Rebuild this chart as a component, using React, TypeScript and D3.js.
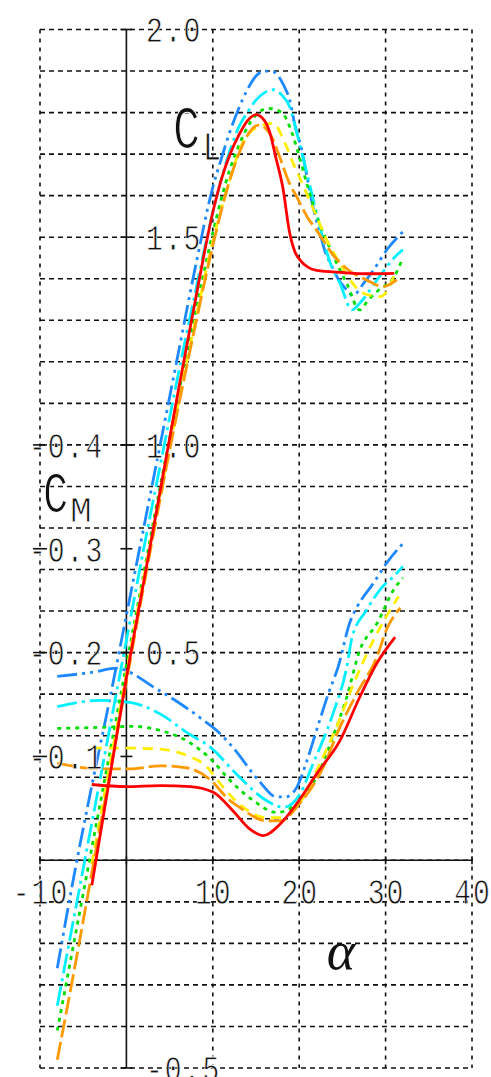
import React from "react";
import * as d3 from "d3";

type P = [number, number];

// ---- tick labels ----
const ALPHA_TICKS = [-10, 0, 10, 20, 30, 40];
const ALPHA_LABELS = ["-10", "", "10", "20", "30", "40"];
const CL_TICKS = [2.0, 1.5, 1.0, 0.5, -0.5];
const CL_LABELS = ["2.0", "1.5", "1.0", "0.5", "-0.5"];
const CM_TICKS = [-0.4, -0.3, -0.2, -0.1];
const CM_LABELS = ["-0.4", "-0.3", "-0.2", "-0.1"];

// ---- lift coefficient curves (alpha, CL) ----
const blueCL: P[] = [[-8,-0.26],[-6,-0.03],[-4,0.18],[-2,0.38],[0,0.59],[2,0.80],[4,1.01],[6,1.22],[8,1.43],[10,1.62],[11,1.69],[12,1.755],[13,1.81],[14,1.855],[15,1.888],[16,1.90],[17,1.898],[18.2,1.866],[18.9,1.83],[19.5,1.77],[20.3,1.71],[20.9,1.646],[21.6,1.573],[22.4,1.51],[23,1.465],[23.8,1.43],[24.5,1.40],[25.3,1.378],[26.2,1.36],[27.5,1.39],[28.6,1.421],[30.3,1.474],[32,1.513]];
const cyanCL: P[] = [[-8,-0.35],[-6,-0.13],[-4,0.09],[-2,0.31],[0,0.53],[2,0.75],[4,0.96],[6,1.17],[8,1.37],[10,1.56],[12,1.71],[13,1.765],[14,1.80],[15,1.83],[16,1.848],[17,1.855],[18,1.842],[18.9,1.814],[19.8,1.745],[20.7,1.67],[22,1.558],[23.6,1.438],[24.7,1.39],[26.1,1.325],[27,1.341],[29,1.397],[31.1,1.453],[32,1.47]];
const greenCL: P[] = [[-8,-0.41],[-6,-0.19],[-4,0.03],[-2,0.25],[0,0.47],[2,0.69],[4,0.91],[6,1.12],[8,1.32],[10,1.51],[12,1.665],[13,1.72],[14.3,1.775],[15.3,1.80],[16.4,1.81],[18,1.80],[18.9,1.766],[19.9,1.702],[21,1.62],[22.2,1.541],[23.4,1.481],[24.5,1.43],[25.5,1.389],[27,1.325],[28,1.349],[29.2,1.373],[31,1.405],[32,1.45]];
const yellowCL: P[] = [[-4,-0.01],[-2,0.22],[0,0.45],[2,0.68],[4,0.89],[6,1.10],[8,1.30],[10,1.49],[12,1.64],[13.1,1.71],[14,1.745],[15.3,1.766],[17,1.774],[18.2,1.734],[19.3,1.678],[20.5,1.622],[22,1.55],[23.2,1.493],[24.7,1.437],[25.9,1.397],[27.4,1.365],[29.4,1.357],[31.1,1.413]];
const orangeCL: P[] = [[-8,-0.48],[-6,-0.26],[-4,-0.03],[-2,0.20],[0,0.43],[2,0.66],[4,0.88],[6,1.09],[8,1.29],[10,1.48],[12,1.64],[13,1.70],[14,1.745],[15.3,1.77],[16.8,1.742],[17.8,1.69],[18.7,1.638],[19.9,1.59],[20.9,1.55],[22,1.517],[24.1,1.453],[25.7,1.421],[27.8,1.397],[29.7,1.381],[31.3,1.397]];
const redCL: P[] = [[-4,-0.06],[-2,0.19],[0,0.44],[2,0.67],[4,0.90],[6,1.13],[8,1.35],[9,1.46],[10,1.56],[11,1.64],[12,1.70],[13,1.745],[14,1.78],[15,1.795],[16,1.78],[16.7,1.745],[17.2,1.70],[18.1,1.62],[18.9,1.51],[19.5,1.465],[20.1,1.445],[21,1.428],[22,1.42],[25,1.415],[28,1.412],[31,1.413]];

// ---- moment coefficient curves (alpha, CM) ----
const blueCM: P[] = [[-8,-0.177],[-4,-0.181],[-1,-0.185],[0.4,-0.181],[3.1,-0.167],[6.2,-0.151],[8.9,-0.135],[10.45,-0.125],[12.4,-0.108],[15.3,-0.077],[17.4,-0.061],[18.4,-0.061],[19.7,-0.070],[20.9,-0.096],[22,-0.125],[23.4,-0.161],[24.5,-0.186],[25.9,-0.230],[26.7,-0.244],[28.6,-0.267],[30.1,-0.286],[32,-0.305]];
const cyanCM: P[] = [[-8,-0.148],[-3,-0.154],[0.4,-0.152],[3.9,-0.141],[7,-0.123],[9.7,-0.109],[13.1,-0.080],[16.2,-0.0575],[18.2,-0.051],[20.1,-0.064],[21.6,-0.093],[23.9,-0.141],[25.5,-0.186],[26.1,-0.214],[27.8,-0.241],[29.7,-0.264],[30.9,-0.273],[32,-0.283]];
const greenCM: P[] = [[-8,-0.127],[-3,-0.128],[0.8,-0.129],[3.9,-0.125],[7,-0.115],[9.7,-0.098],[12,-0.077],[14.7,-0.0575],[17.4,-0.046],[20.1,-0.0575],[22,-0.080],[23.9,-0.119],[25.5,-0.157],[27,-0.202],[29,-0.228],[30.9,-0.260],[32,-0.272]];
const yellowCM: P[] = [[-4,-0.108],[0.4,-0.108],[3.9,-0.107],[7,-0.101],[9.3,-0.090],[10.45,-0.078],[13.1,-0.054],[16.2,-0.041],[17.8,-0.041],[20.5,-0.061],[22.4,-0.093],[24.3,-0.128],[26.3,-0.170],[28.6,-0.212],[30.1,-0.235],[31.5,-0.254]];
const orangeCM: P[] = [[-8,-0.0935],[-3,-0.088],[0.4,-0.088],[3.9,-0.091],[7,-0.089],[9.5,-0.079],[12,-0.0575],[13.1,-0.051],[16.2,-0.038],[17.8,-0.038],[20.1,-0.055],[22.8,-0.090],[24.7,-0.128],[26.7,-0.161],[29,-0.196],[30.1,-0.222],[31.7,-0.243]];
const redCM: P[] = [[-4,-0.073],[0,-0.071],[3.9,-0.072],[7.4,-0.071],[10.06,-0.0655],[12.4,-0.047],[14.3,-0.030],[15.85,-0.0237],[17.8,-0.035],[20.1,-0.059],[22,-0.083],[24.7,-0.115],[27,-0.157],[29,-0.190],[31.1,-0.215]];

const SERIES = [
  { cl: blueCL, cm: blueCM, color: "#1e88ff", dash: "20,5,3,5,3,5" },
  { cl: cyanCL, cm: cyanCM, color: "#00f0ff", dash: "20,5,3,5" },
  { cl: greenCL, cm: greenCM, color: "#00dd00", dash: "4,5" },
  { cl: yellowCL, cm: yellowCM, color: "#ffee00", dash: "10,7" },
  { cl: orangeCL, cm: orangeCM, color: "#ff9900", dash: "18,5" },
  { cl: redCL, cm: redCM, color: "#ff0000", dash: "none" },
];

const W = 491;
const H = 1077;
const MONO = "'Liberation Mono', 'DejaVu Sans Mono', monospace";

function Label({ x, y, text, size = 28, anchor = "start", sy = 1.35 }: any) {
  return (
    <g transform={`translate(${x},${y}) scale(1,${sy})`}>
      <text
        dy={size * 0.34}
        fontFamily={MONO}
        fontSize={size}
        letterSpacing={2}
        textAnchor={anchor}
        fill="#111"
        stroke="#fff"
        strokeWidth={0.6}
      >
        {text}
      </text>
    </g>
  );
}

export default function App() {
  const x = d3.scaleLinear().domain([-10, 40]).range([40, 472]);
  const yCL = d3.scaleLinear().domain([-0.5, 2.0]).range([1068, 29.5]);
  const yCM = d3.scaleLinear().domain([0.2, -0.8]).range([1068, 29.5]);

  const lineCL = d3
    .line<P>()
    .x((d) => x(d[0]))
    .y((d) => yCL(d[1]))
    .curve(d3.curveMonotoneX);
  const lineCM = d3
    .line<P>()
    .x((d) => x(d[0]))
    .y((d) => yCM(d[1]))
    .curve(d3.curveMonotoneX);

  const gridY = d3.range(26).map((i) => -0.5 + i * 0.1);
  const gridX = [-10, 10, 20, 30, 40];
  const x0 = x(0);
  const yAxis = yCL(0);

  return (
    <svg
      width={W}
      height={H}
      style={{ position: "absolute", left: 0, top: 0, background: "#fff" }}
    >
      <rect width={W} height={H} fill="#fff" />
      {/* grid */}
      <g stroke="#111" strokeWidth={1.6} fill="none">
        {gridY.map((v, i) => (
          <line
            key={"h" + i}
            x1={x(-10)}
            x2={x(40)}
            y1={yCL(v)}
            y2={yCL(v)}
            strokeDasharray="5,4"
          />
        ))}
        {gridX.map((v) => (
          <line
            key={"v" + v}
            x1={x(v)}
            x2={x(v)}
            y1={yCL(2.0)}
            y2={yCL(-0.5)}
            strokeDasharray="4,5"
          />
        ))}
      </g>
      {/* axes */}
      <g stroke="#111" strokeWidth={1.6}>
        <line x1={x0} x2={x0} y1={yCL(2.0)} y2={yCL(-0.5)} />
        <line x1={x(-10)} x2={x(40)} y1={yAxis} y2={yAxis} />
        {ALPHA_TICKS.map((t) => (
          <line key={"at" + t} x1={x(t)} x2={x(t)} y1={yAxis - 4} y2={yAxis + 4} />
        ))}
        {CL_TICKS.map((t) => (
          <line key={"ct" + t} x1={x0 - 6} x2={x0 + 6} y1={yCL(t)} y2={yCL(t)} />
        ))}
        {CM_TICKS.map((t) => (
          <g key={"mt" + t}>
            <line x1={x0 - 6} x2={x0 + 6} y1={yCM(t)} y2={yCM(t)} />
            <line x1={x(-10) - 7} x2={x(-10) + 7} y1={yCM(t)} y2={yCM(t)} />
          </g>
        ))}
      </g>
      {/* curves */}
      <g fill="none" strokeWidth={2.8} strokeLinejoin="round">
        {SERIES.map((s, i) => (
          <g key={"s" + i} stroke={s.color} strokeDasharray={s.dash}>
            <path d={lineCM(s.cm) || ""} />
            <path d={lineCL(s.cl) || ""} />
          </g>
        ))}
      </g>
      {/* tick labels */}
      {CL_TICKS.map((t, i) => (
        <Label key={"cl" + t} x={146} y={yCL(t)} text={CL_LABELS[i]} />
      ))}
      {CM_TICKS.map((t, i) => (
        <Label key={"cm" + t} x={29} y={yCM(t)} text={CM_LABELS[i]} />
      ))}
      {ALPHA_TICKS.map((t, i) =>
        ALPHA_LABELS[i] ? (
          <Label key={"al" + t} x={x(t) + 1} y={891.5} text={ALPHA_LABELS[i]} anchor="middle" />
        ) : null
      )}
      {/* axis titles */}
      <g transform="translate(173,148) scale(1,1.35)">
        <text fontFamily={MONO} fontSize={45} fill="#111" stroke="#fff" strokeWidth={0.8}>C</text>
      </g>
      <g transform="translate(203,160) scale(1,1.35)">
        <text fontFamily={MONO} fontSize={30} fill="#111" stroke="#fff" strokeWidth={0.6}>L</text>
      </g>
      <g transform="translate(43,512) scale(1,1.35)">
        <text fontFamily={MONO} fontSize={42} fill="#111" stroke="#fff" strokeWidth={0.8}>C</text>
      </g>
      <g transform="translate(70,522) scale(1.3,1.35)">
        <text fontFamily={MONO} fontSize={28} fill="#111" stroke="#fff" strokeWidth={0.6}>M</text>
      </g>
      <text
        x={341}
        y={969}
        textAnchor="middle"
        fontFamily="'Liberation Serif', serif"
        fontStyle="italic"
        fontSize={54}
        fill="#111"
      >
        α
      </text>
    </svg>
  );
}
